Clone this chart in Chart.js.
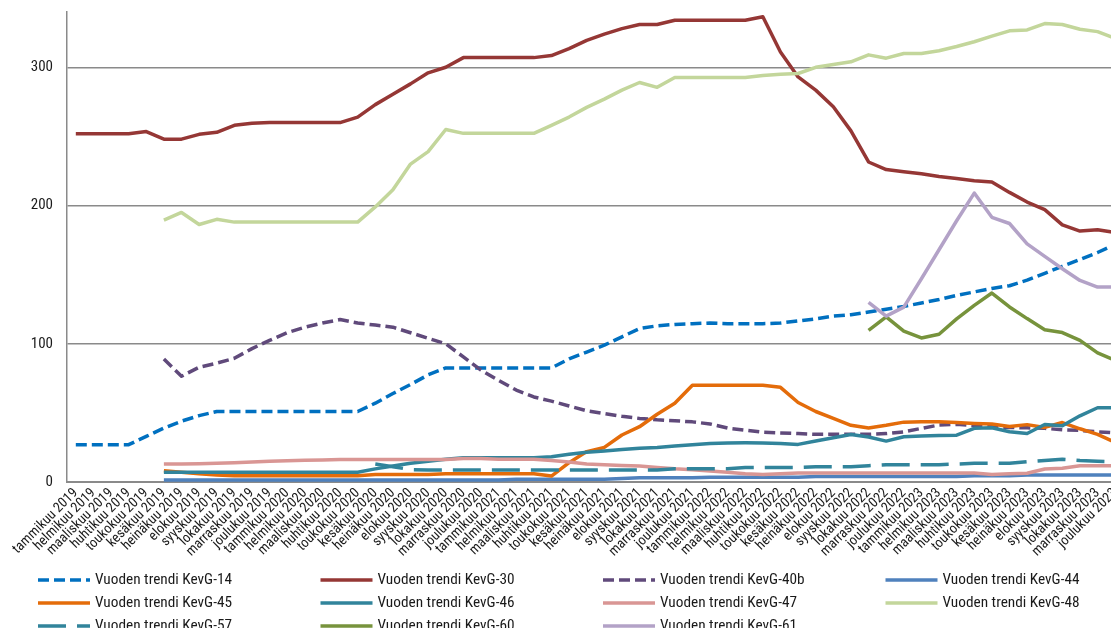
<!DOCTYPE html>
<html>
<head>
<meta charset="utf-8">
<script src="https://cdn.jsdelivr.net/npm/chart.js@4"></script>
<style>
  html, body { margin: 0; padding: 0; overflow: hidden; background: #fff; width: 1111px; height: 628px; }
  #wrap { position: absolute; left: 0; top: 0; width: 1124px; height: 640px; }
</style>
</head>
<body>
<div id="wrap"><canvas id="c" width="1124" height="640"></canvas></div>
<script>
// Kuukaudet ja vuodet x-akselille
const monthNames = ['tammikuu', 'helmikuu', 'maaliskuu', 'huhtikuu', 'toukokuu', 'kesäkuu',
  'heinäkuu', 'elokuu', 'syyskuu', 'lokakuu', 'marraskuu', 'joulukuu'];
const years = [2019, 2020, 2021, 2022, 2023];
const yTicks = [0, 100, 200, 300];

// Vuoden liukuvat trendit, kuukausittain tammikuu 2019 – joulukuu 2023
const kevG14 = [27, 27, 27, 27, 33, 39, 44, 48, 51, 51,
  51, 51, 51, 51, 51, 51, 51, 57, 64, 70.5,
  77.5, 82.5, 82.5, 82.5, 82.5, 82.5, 82.5, 82.5, 89, 94,
  99, 105, 111, 113, 114, 114.5, 115, 114.5, 114.5, 114.5,
  115, 116.5, 118, 120, 121, 123, 125, 127, 129.5, 132,
  135, 137.5, 140, 142, 146, 151, 156, 161, 166, 172];
const kevG30 = [252, 252, 252, 252, 253.5, 248, 248, 251.5, 253, 258,
  259.5, 260, 260, 260, 260, 260, 264, 273, 280.5, 288,
  296, 300, 307, 307, 307, 307, 307, 308.5, 313.5, 319.5,
  324, 328, 331, 331, 334, 334, 334, 334, 334, 336.5,
  311, 293, 283.5, 271.5, 254, 231.5, 226, 224.5, 223, 221,
  219.5, 218, 217, 209.5, 202.5, 197, 186, 181.5, 182.5, 180.5];
const kevG40b = [null, null, null, null, null, 89, 76.5, 83, 86, 89.5,
  96.5, 102.5, 108, 112, 115, 117.5, 115, 113.5, 112, 108,
  104, 100, 90.5, 81, 73.5, 66.5, 61.5, 58.5, 55, 51.5,
  49.5, 47.5, 46, 45, 44.3, 43.5, 42, 39, 37.5, 36,
  35.5, 35, 34.5, 34.5, 34.5, 34.5, 35, 36.3, 38.8, 41.2,
  41.7, 40.7, 40, 39.5, 39.2, 38.8, 37.8, 37.3, 36.3, 35.6];
const kevG44 = [null, null, null, null, null, 1.5, 1.5, 1.5, 1.5, 1.5,
  1.5, 1.5, 1.5, 1.5, 1.5, 1.5, 1.5, 1.5, 1.5, 1.5,
  1.5, 1.5, 1.5, 1.5, 1.5, 2, 2, 2, 2, 2,
  2, 2.5, 3, 3, 3, 3, 3.5, 3.5, 3.5, 3.5,
  3.5, 3.5, 4, 4, 4, 4, 4, 4, 4, 4,
  4, 4.5, 4.5, 4.5, 5, 5, 5, 5, 5, 5];
const kevG45 = [null, null, null, null, null, 8.2, 7, 6, 5, 4.5,
  4.5, 4.5, 4.5, 4.5, 4.5, 4.5, 4.5, 5.5, 5.5, 5.5,
  5.5, 6, 6, 6, 6, 6, 6, 4.3, 14, 22,
  25, 34, 40, 49, 57, 70, 70, 70, 70, 70,
  68.5, 57.5, 51, 46, 41, 39, 41, 43.3, 43.6, 43.6,
  43, 42.4, 42, 40.2, 41.5, 39.5, 43, 38.5, 34.5, 28.7];
const kevG46 = [null, null, null, null, null, 7, 7, 7, 7, 7,
  7, 7, 7, 7, 7, 7, 7, 9.5, 11.5, 13.5,
  15, 16.5, 17.5, 17.5, 17.5, 17.5, 17.5, 18.3, 20, 21.5,
  22.5, 23.5, 24.5, 25, 26, 27, 27.8, 28.3, 28.4, 28.3,
  27.8, 27.2, 29.6, 32, 34.4, 32.5, 29.6, 32.7, 33.2, 33.7,
  33.9, 38.8, 39.2, 36.3, 35.1, 41.6, 40.7, 47.9, 53.7, 53.7];
const kevG47 = [null, null, null, null, null, 13, 13, 13.2, 13.5, 14,
  14.5, 15, 15.3, 15.7, 16, 16.3, 16.3, 16.3, 16.3, 16.3,
  16.3, 16.3, 17, 17, 16.5, 16.5, 16.5, 15.5, 14.5, 13,
  12.5, 12, 11.5, 10.5, 9.5, 8.8, 8, 7, 6, 5.5,
  6, 6.5, 6.5, 6.5, 6.5, 6.5, 6.5, 6.5, 6.5, 6.5,
  6.5, 6.5, 5.5, 6, 6.3, 9.4, 10, 11.8, 11.8, 11.8];
const kevG48 = [null, null, null, null, null, 189.5, 195, 186.3, 190, 188,
  188, 188, 188, 188, 188, 188, 188, 199, 211.5, 230,
  239, 255, 252.2, 252.2, 252.2, 252.2, 252.2, 258, 264, 271,
  277, 283.5, 289, 285.5, 292.6, 292.6, 292.6, 292.6, 292.6, 294,
  295, 295.5, 300, 302, 304, 309, 306.6, 310, 310, 312,
  315, 318.5, 322.5, 326.4, 327, 331.6, 331, 327.5, 325.8, 321];
const kevG57 = [null, null, null, null, null, null, null, null, null, null,
  null, null, null, null, null, null, null, 13, 11, 9,
  8.7, 8.7, 8.7, 8.7, 8.7, 8.7, 8.7, 8.7, 8.7, 8.7,
  8.7, 8.7, 8.7, 8.7, 9.5, 9.5, 9.5, 9.5, 10.5, 10.5,
  10.5, 10.5, 11, 11, 11, 11.8, 12.5, 12.5, 12.5, 12.5,
  13, 13.5, 13.5, 13.5, 14.7, 15.5, 16.4, 15.5, 15, 14.7];
const kevG60 = [null, null, null, null, null, null, null, null, null, null,
  null, null, null, null, null, null, null, null, null, null,
  null, null, null, null, null, null, null, null, null, null,
  null, null, null, null, null, null, null, null, null, null,
  null, null, null, null, null, 109.7, 119.4, 109.2, 104.2, 106.9,
  118, 127.8, 136.7, 126.6, 118.2, 110.2, 108.1, 102.5, 93.4, 88];
const kevG61 = [null, null, null, null, null, null, null, null, null, null,
  null, null, null, null, null, null, null, null, null, null,
  null, null, null, null, null, null, null, null, null, null,
  null, null, null, null, null, null, null, null, null, null,
  null, null, null, null, null, 130, 120, 126.5, 147, 168,
  189, 209, 191.5, 187, 172.3, 163.2, 154.3, 145.8, 141, 141];

const labels = [];
years.forEach(y => monthNames.forEach(m => labels.push(m + ' ' + y)));

const FONT = '"Roboto Condensed", "Liberation Sans", sans-serif';
Chart.defaults.font.family = FONT;

const SHORT_DASH = [11, 5];
const LONG_DASH = [28, 11];

const seriesDefs = [
  { label: 'Vuoden trendi KevG-14', data: kevG14, color: '#0070C0', dash: SHORT_DASH, width: 3.5 },
  { label: 'Vuoden trendi KevG-30', data: kevG30, color: '#953735', dash: [], width: 3.5 },
  { label: 'Vuoden trendi KevG-40b', data: kevG40b, color: '#604A7B', dash: SHORT_DASH, width: 3.5 },
  { label: 'Vuoden trendi KevG-44', data: kevG44, color: '#4F81BD', dash: [], width: 3.5 },
  { label: 'Vuoden trendi KevG-45', data: kevG45, color: '#E46C0A', dash: [], width: 3.5 },
  { label: 'Vuoden trendi KevG-46', data: kevG46, color: '#31849B', dash: [], width: 3.5 },
  { label: 'Vuoden trendi KevG-47', data: kevG47, color: '#D99694', dash: [], width: 3.5 },
  { label: 'Vuoden trendi KevG-48', data: kevG48, color: '#C3D69B', dash: [], width: 3.5 },
  { label: 'Vuoden trendi KevG-57', data: kevG57, color: '#31849B', dash: LONG_DASH, width: 3.5 },
  { label: 'Vuoden trendi KevG-60', data: kevG60, color: '#77933C', dash: [], width: 3.5 },
  { label: 'Vuoden trendi KevG-61', data: kevG61, color: '#B3A2C7', dash: [], width: 3.5 }
];

const datasets = seriesDefs.map((s, i) => ({
  label: s.label,
  data: s.data,
  borderColor: s.color,
  backgroundColor: s.color,
  borderWidth: s.width,
  borderDash: s.dash,
  borderJoinStyle: 'round',
  borderCapStyle: 'butt',
  pointRadius: 0,
  pointHoverRadius: 0,
  tension: 0,
  fill: false,
  spanGaps: false,
  order: seriesDefs.length - i
}));

// Selite neljään sarakkeeseen kaavion alle
const gridLegend = {
  id: 'gridLegend',
  afterDraw(chart) {
    const ctx = chart.ctx;
    const cols = 4, colW = 282.5, x0 = 38, y0 = 580, rowH = 23, sample = 52;
    ctx.save();
    chart.data.datasets.forEach((ds, i) => {
      const col = i % cols, row = Math.floor(i / cols);
      const x = x0 + col * colW, y = y0 + row * rowH;
      ctx.strokeStyle = ds.borderColor;
      ctx.lineWidth = ds.borderWidth;
      ctx.setLineDash(ds.borderDash || []);
      ctx.lineCap = 'butt';
      ctx.beginPath();
      ctx.moveTo(x, y);
      ctx.lineTo(x + sample, y);
      ctx.stroke();
      ctx.setLineDash([]);
      ctx.fillStyle = '#1a1a1a';
      ctx.font = '15.3px ' + FONT;
      ctx.textBaseline = 'middle';
      ctx.textAlign = 'left';
      ctx.fillText(ds.label, x + sample + 5, y);
    });
    ctx.restore();
  }
};

new Chart(document.getElementById('c'), {
  type: 'line',
  data: { labels, datasets },
  plugins: [gridLegend],
  options: {
    responsive: false,
    animation: false,
    devicePixelRatio: 1,
    layout: { padding: { top: 12, right: 0, bottom: 80, left: 0 } },
    plugins: { legend: { display: false }, tooltip: { enabled: false } },
    scales: {
      x: {
        type: 'category',
        offset: true,
        grid: { display: false, drawTicks: false },
        border: { display: true, color: '#8a8a8a', width: 2 },
        ticks: {
          autoSkip: false, maxRotation: 45, minRotation: 45,
          color: '#1a1a1a', font: { size: 14 }, padding: 3
        },
        afterFit(s) { s.paddingLeft = 0; s.paddingRight = 0; s.height = 78; }
      },
      y: {
        min: 0, max: 340,
        afterBuildTicks(s) { s.ticks = yTicks.map(v => ({ value: v })); },
        grid: { color: '#8a8a8a', lineWidth: 1.5, drawTicks: false },
        border: { display: true, color: '#8a8a8a', width: 1.5 },
        ticks: { color: '#1a1a1a', font: { size: 15 }, padding: 14 },
        afterFit(s) { s.width = 67; s.paddingTop = 0; s.paddingBottom = 0; }
      }
    }
  }
});
</script>
</body>
</html>
